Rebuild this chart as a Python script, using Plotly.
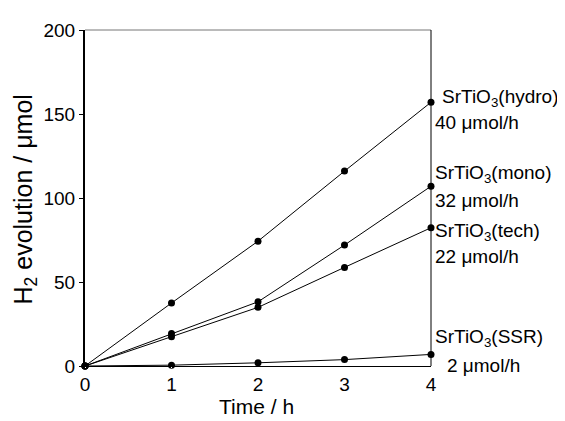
import plotly.graph_objects as go

time_h = [0, 1, 2, 3, 4]
hydro = [0, 37.5, 74.3, 116.0, 157.0]
mono = [0, 19.3, 38.2, 72.0, 107.0]
tech = [0, 17.4, 34.9, 58.7, 82.3]
ssr = [0, 0.5, 1.9, 3.8, 6.9]

series = [("hydro", hydro), ("mono", mono), ("tech", tech), ("SSR", ssr)]
labels = ["SrTiO<sub>3</sub>(hydro)", "SrTiO<sub>3</sub>(mono)", "SrTiO<sub>3</sub>(tech)", "SrTiO<sub>3</sub>(SSR)"]
rates = ["40 μmol/h", "32 μmol/h", "22 μmol/h", "2 μmol/h"]
label_y = [159.4, 114.5, 79.5, 16.6]
rate_y = [144.8, 98.8, 65.0, 0.3]
label_shift = [9, 2, 2, 2]
rate_shift = [2, 2, 2, 14]

FONT = "Liberation Sans, Arial, sans-serif"

fig = go.Figure()
for name, vals in series:
    fig.add_trace(go.Scatter(
        x=time_h, y=vals, mode="lines+markers", name=name,
        line=dict(color="black", width=1),
        marker=dict(color="black", size=7),
        cliponaxis=False, showlegend=False))

annotations = []
for lab, ly, ls, rt, ry, rs in zip(labels, label_y, label_shift, rates, rate_y, rate_shift):
    annotations.append(dict(x=4, y=ly, xref="x", yref="y", text=lab, showarrow=False,
                            xanchor="left", yanchor="middle", xshift=ls,
                            font=dict(family=FONT, size=19, color="black")))
    annotations.append(dict(x=4, y=ry, xref="x", yref="y", text=rt, showarrow=False,
                            xanchor="left", yanchor="middle", xshift=rs,
                            font=dict(family=FONT, size=19, color="black")))

annotations.append(dict(x=-0.173, y=0.496, xref="paper", yref="paper",
                        text="H<sub>2</sub> evolution / μmol", textangle=-90,
                        showarrow=False, xanchor="center", yanchor="middle",
                        font=dict(family=FONT, size=25, color="black")))
annotations.append(dict(x=0.495, y=-0.121, xref="paper", yref="paper",
                        text="Time / h", showarrow=False, xanchor="center", yanchor="middle",
                        font=dict(family=FONT, size=21, color="black")))

fig.update_layout(
    width=557, height=413,
    margin=dict(l=77, r=134, t=15, b=55),
    plot_bgcolor="white", paper_bgcolor="white",
    font=dict(family=FONT, size=19, color="black"),
    annotations=annotations,
    shapes=[
        dict(type="line", xref="paper", yref="paper", x0=0, x1=1, y0=1, y1=1,
             line=dict(color="#777777", width=1)),
        dict(type="line", xref="paper", yref="paper", x0=1, x1=1, y0=0, y1=1,
             line=dict(color="black", width=1)),
    ],
)
fig.update_xaxes(range=[0, 4], tickvals=[0, 1, 2, 3, 4], showline=True, linecolor="black",
                 linewidth=1, showgrid=False, zeroline=False, ticks="outside", ticklen=1,
                 tickcolor="white", tickfont=dict(family=FONT, size=19))
fig.update_yaxes(range=[0, 200], tickvals=[0, 50, 100, 150, 200], showline=True, linecolor="black",
                 linewidth=2, showgrid=False, zeroline=False, ticks="outside", ticklen=4,
                 tickcolor="black", tickfont=dict(family=FONT, size=19))

fig.write_html("out.html")
